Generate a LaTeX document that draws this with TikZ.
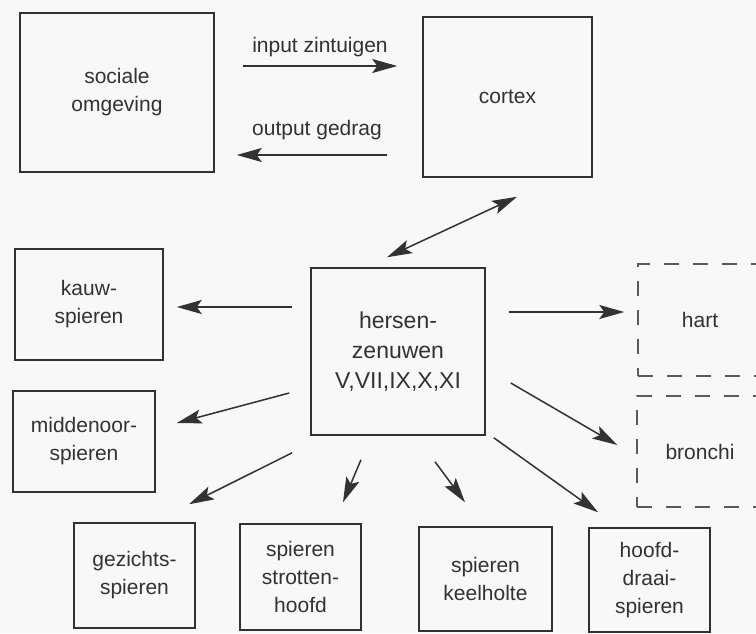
\documentclass[tikz,border=0pt]{standalone}
\usepackage{fontspec}
\setmainfont{Liberation Sans}
\usetikzlibrary{arrows.meta, positioning}
\definecolor{inkgray}{RGB}{50, 50, 50}
\definecolor{dashgray}{RGB}{90, 90, 90}
\definecolor{paper}{RGB}{248, 248, 246}
\tikzset{
  blok/.style 2 args={
    rectangle, draw=inkgray, line width=1.5pt,
    minimum width=#1pt, minimum height=#2pt, inner sep=0pt,
    text=inkgray, align=center,
    font=\fontsize{21}{28}\selectfont
  },
  openblok/.style 2 args={
    blok={#1}{#2}, draw=dashgray, line width=1.4pt,
    dash pattern=on 15pt off 14pt
  },
  pijlpunt/.tip={Stealth[length=25pt, width=14pt, inset=5pt]},
  arrow/.style={
    -pijlpunt, line width=1.5pt, color=inkgray
  },
  pijltekst/.style={
    text=inkgray, font=\fontsize{21}{28}\selectfont, anchor=base
  }
}

\begin{document}
\begin{tikzpicture}[x=1pt, y=-1pt]

  \useasboundingbox (0,0) rectangle (756,633);
  \fill[paper] (0,0) rectangle (756,633);

  % ── Top row ────────────────────────────────────────────
  \node[blok={194}{159}] (soc) at (117,92.5) {sociale\\omgeving};
  \node[blok={169}{160}] (cortex) at (507.5,97) {cortex};

  % ── Centre ─────────────────────────────────────────────
  \node[blok={174}{167}, font=\fontsize{23}{30}\selectfont]
    (hersen) at (398,351.5) {hersen-\\zenuwen\\V,VII,IX,X,XI};

  % ── Left column ────────────────────────────────────────
  \node[blok={148}{111}] (kauw) at (89,304.5) {kauw-\\spieren};
  \node[blok={142}{101}] (midoor) at (84,441.5) {middenoor-\\spieren};

  % ── Bottom row ─────────────────────────────────────────
  \node[blok={121}{105}] (gezicht) at (134.5,575.5) {gezichts-\\spieren};
  \node[blok={121}{106}] (strot) at (300.5,577) {spieren\\strotten-\\hoofd};
  \node[blok={133}{104}] (keel) at (485.5,579) {spieren\\keelholte};
  \node[blok={121}{104}] (hoofd) at (649.5,580) {hoofd-\\draai-\\spieren};

  % ── Right column (dashed) ──────────────────────────────
  \node[openblok={124}{112}] (hart) at (700,320) {hart};
  \node[openblok={126}{111}] (bronchi) at (700,451.5) {bronchi};

  % ── Arrows: omgeving <-> cortex ────────────────────────
  \draw[arrow] ([shift={(28,-26.5)}]soc.east) --
    ([shift={(-25,-31)}]cortex.west)
    node[pijltekst, midway, yshift=14pt] {input zintuigen};
  \draw[arrow] ([shift={(-35,58)}]cortex.west) --
    ([shift={(22,62.5)}]soc.east)
    node[pijltekst, midway, xshift=5pt, yshift=20pt] {output gedrag};

  % ── Arrow: cortex <-> hersenzenuwen ────────────────────
  \draw[arrow, pijlpunt-pijlpunt]
    ([shift={(-11,-10)}]hersen.north) -- ([shift={(9.5,19)}]cortex.south);

  % ── Arrows: hersenzenuwen -> targets ───────────────────
  \draw[arrow] ([shift={(-18,-44.5)}]hersen.west) --
    ([shift={(13,2.5)}]kauw.east);
  \draw[arrow] ([shift={(-21,41.5)}]hersen.west) --
    ([shift={(21,-18.5)}]midoor.east);
  \draw[arrow] ([shift={(-18,17)}]hersen.south west) --
    ([shift={(54.5,-18)}]gezicht.north);
  \draw[arrow] ([shift={(-37,24)}]hersen.south) --
    ([shift={(42.5,-21)}]strot.north);
  \draw[arrow] ([shift={(37,26)}]hersen.south) --
    ([shift={(-20.5,-24)}]keel.north);
  \draw[arrow] ([shift={(8,2)}]hersen.south east) --
    ([shift={(-51.5,-15)}]hoofd.north);
  \draw[arrow] ([shift={(25,31.5)}]hersen.east) --
    ([shift={(-19,-6.5)}]bronchi.west);
  \draw[arrow] ([shift={(23,-39.5)}]hersen.east) --
    ([shift={(-13,-8)}]hart.west);

\end{tikzpicture}
\end{document}
